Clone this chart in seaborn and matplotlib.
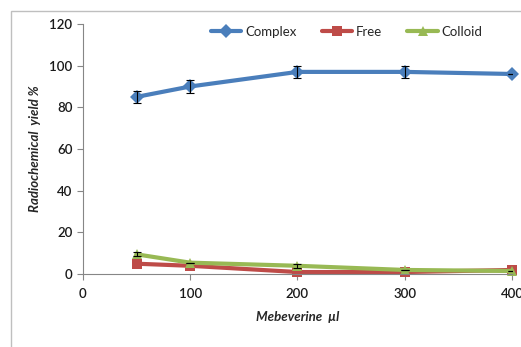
import matplotlib
matplotlib.use("Agg")
import matplotlib.pyplot as plt
import seaborn as sns
import pandas as pd
from matplotlib.patches import Rectangle

volume = [50, 100, 200, 300, 400]
complex_vals = [85, 90, 97, 97, 96]
complex_err = [3, 3, 3, 3, 0]
free_vals = [5, 4, 1, 1, 2]
colloid_vals = [9.5, 5.5, 4, 2, 1.5]
colloid_err = [1, 0, 1, 0, 0]

series = ["Complex", "Free", "Colloid"]
colors = ["#4a7ebb", "#be4b48", "#98b954"]
markers = ["D", "s", "^"]

df = pd.DataFrame({
    "x": volume * 3,
    "y": complex_vals + free_vals + colloid_vals,
    "s": [series[0]] * 5 + [series[1]] * 5 + [series[2]] * 5,
})

sns.set_style("white")
plt.rcParams["font.family"] = ["Lato", "DejaVu Sans"]

fig = plt.figure(figsize=(5.21, 3.47), dpi=100)
ax = fig.add_axes([0.159, 0.21, 0.824, 0.721])

fig.patches.append(Rectangle((11 / 521, -0.1), 1.2, 1 - 11 / 347 + 0.1,
                             transform=fig.transFigure, fill=False,
                             edgecolor="#bfbfbf", linewidth=1, zorder=0))

sns.lineplot(data=df, x="x", y="y", hue="s", style="s", palette=colors,
             markers=markers, dashes=False, linewidth=3, markersize=7,
             markeredgewidth=0, ax=ax, legend=True, clip_on=False)

ax.errorbar(volume, complex_vals, yerr=complex_err, fmt="none", ecolor="black",
            elinewidth=0.8, capsize=3, capthick=0.8, zorder=5)
ax.errorbar(volume, colloid_vals, yerr=colloid_err, fmt="none", ecolor="black",
            elinewidth=0.8, capsize=3, capthick=0.8, zorder=5)

ax.set_xlim(0, 400)
ax.set_ylim(0, 120)
ax.set_xticks([0, 100, 200, 300, 400])
ax.set_yticks([0, 20, 40, 60, 80, 100, 120])
ax.tick_params(axis="both", labelsize=9.5, colors="#868686", length=4,
               direction="out", width=0.8, bottom=True, left=True)
for lab in ax.get_xticklabels() + ax.get_yticklabels():
    lab.set_color("#1a1a1a")
    lab.set_fontweight("semibold")
ax.xaxis.set_tick_params(pad=6)
for side in ["top", "right"]:
    ax.spines[side].set_visible(False)
for side in ["left", "bottom"]:
    ax.spines[side].set_color("#868686")
    ax.spines[side].set_linewidth(0.8)

ax.set_xlabel("Mebeverine  µl", fontsize=9.5, fontweight="bold", style="italic",
              labelpad=8)
ax.set_ylabel("Radiochemical  yield %", fontsize=9.5, fontweight="bold",
              style="italic", labelpad=6)

leg = ax.legend(loc="upper center", bbox_to_anchor=(0.615, 1.04), ncol=3,
                frameon=False, fontsize=9.5, handlelength=2.3, columnspacing=1.9,
                handletextpad=0.3)
for h in leg.legend_handles:
    h.set_linewidth(3)

fig.savefig("out.png", dpi=100)
